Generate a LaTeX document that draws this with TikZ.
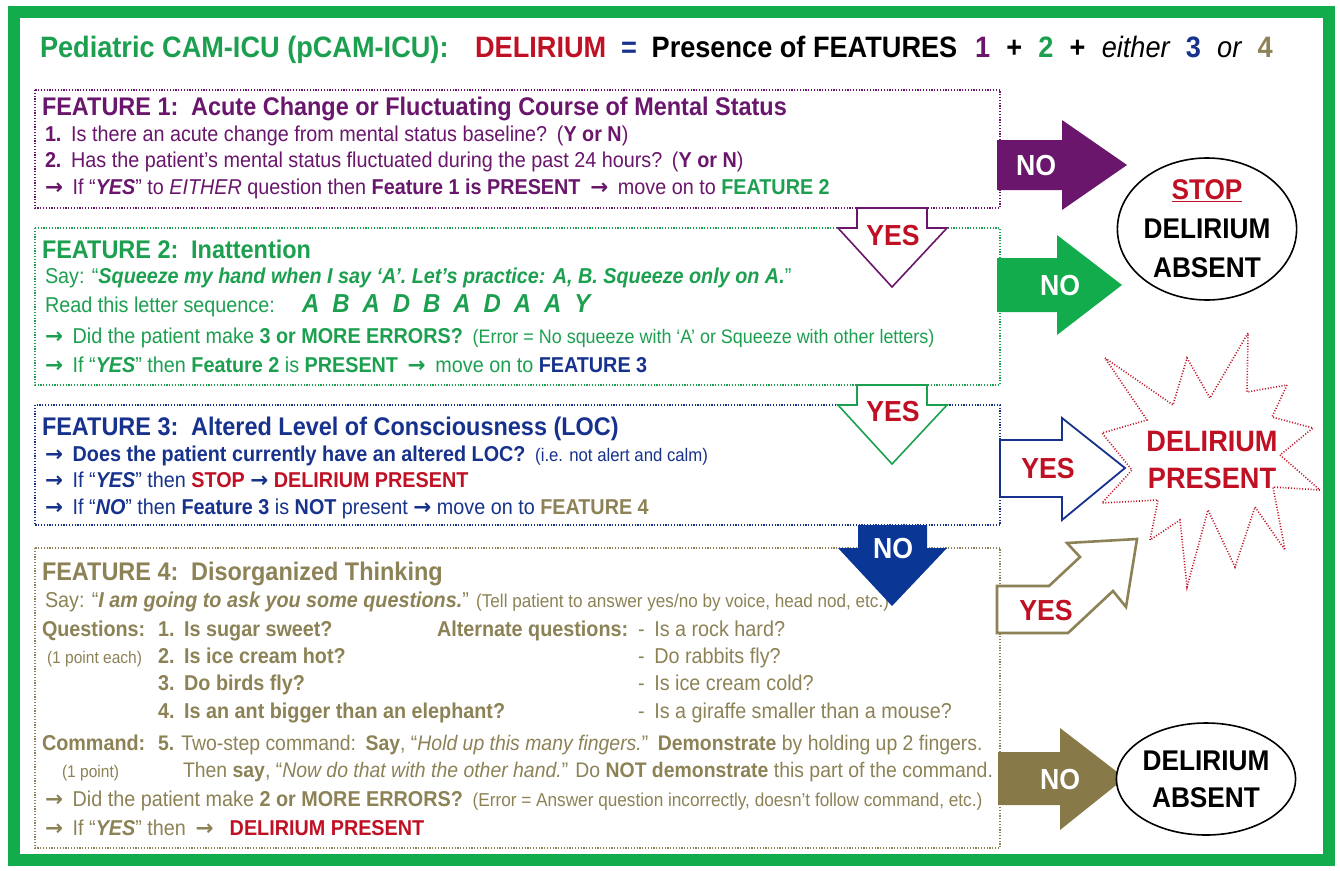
\documentclass[tikz,border=0pt]{standalone}
\usepackage{fontspec}
\setmainfont{Liberation Sans}[FakeStretch=0.92]
\newfontfamily\arrowfont{DejaVu Sans}
\usetikzlibrary{shapes.geometric}

\definecolor{frameGreen}{RGB}{18,172,76}
\definecolor{fGreen}{RGB}{28,160,80}
\definecolor{fPurple}{RGB}{105,22,108}
\definecolor{fBlue}{RGB}{22,50,140}
\definecolor{fKhaki}{RGB}{140,130,86}
\definecolor{fRed}{RGB}{192,16,36}
\definecolor{noBlue}{RGB}{10,55,150}
\definecolor{noKhaki}{RGB}{135,122,72}

\newcommand\titlesz{\fontsize{29.5}{34}\selectfont}
\newcommand\headsz{\fontsize{25.5}{30}\selectfont}
\newcommand\bodysz{\fontsize{21.5}{26}\selectfont}
\newcommand\parsz[1]{\fontsize{#1}{22}\selectfont}
\newcommand\bigsz{\fontsize{29}{34}\selectfont}
\newcommand\gap{\hspace{.45em}}
\newcommand\rarr{{\arrowfont\bfseries →}}

\begin{document}
\begin{tikzpicture}[x=1pt,y=-1pt,
  txt/.style={anchor=base west, inner sep=0pt, outer sep=0pt, font=\bodysz},
  headtxt/.style={txt, font=\headsz\bfseries},
  fbox/.style={draw=#1, line width=1.2pt, dash pattern=on 1.2pt off 1.6pt},
  arrtxt/.style={inner sep=0pt, font=\bigsz\bfseries},
  oval/.style={ellipse, draw=black, line width=1.6pt, fill=white, inner sep=0pt,
    align=center, font=\fontsize{28.5}{34}\selectfont\bfseries}
]
\useasboundingbox (0,0) rectangle (1340,870);
\fill[white] (0,0) rectangle (1340,870);

% outer frame
\draw[frameGreen, line width=12pt] (14,11.5) rectangle (1329,859.5);

% title
\node[txt, font=\titlesz\bfseries] (title) at (40,57) {%
  \color{fGreen}Pediatric CAM-ICU (pCAM-ICU):\hspace{.9em}%
  \color{fRed}DELIRIUM\hspace{.5em}%
  \color{fBlue}=\hspace{.5em}%
  \color{black}Presence of FEATURES\hspace{.6em}%
  {\color{fPurple}1}\hspace{.55em}+\hspace{.55em}{\color{fGreen}2}\hspace{.55em}+\hspace{.55em}%
  {\mdseries\itshape either}\hspace{.55em}{\color{fBlue}3}\hspace{.55em}{\mdseries\itshape or}\hspace{.55em}{\color{fKhaki}4}};

% ---------- feature boxes ----------
\draw[fbox=fPurple] (35,90) rectangle (1000,208);
\draw[fbox=fGreen] (35,228) rectangle (1000,385);
\draw[fbox=fBlue] (35,405) rectangle (1000,525);
\draw[fbox=fKhaki] (35,548) rectangle (1000,848);

% ---------- Feature 1 ----------
\begin{scope}[color=fPurple]
\node[headtxt] (f1h) at (42,115) {FEATURE 1:\hspace{.5em}Acute Change or Fluctuating Course of Mental Status};
\node[txt] (f1a) at (45,141) {\textbf{1.}\gap Is there an acute change from mental status baseline?\gap(\textbf{Y or N})};
\node[txt] (f1b) at (45,167) {\textbf{2.}\gap Has the patient’s mental status fluctuated during the past 24 hours?\gap(\textbf{Y or N})};
\node[txt] (f1c) at (45,194) {\rarr\gap If “\textbf{\textit{YES}}” to \textit{EITHER} question then \textbf{Feature 1 is PRESENT}\gap\rarr\gap move on to \textbf{\color{fGreen}FEATURE 2}};
\end{scope}

% ---------- Feature 2 ----------
\begin{scope}[color=fGreen]
\node[headtxt] (f2h) at (42,258) {FEATURE 2:\hspace{.5em}Inattention};
\node[txt] (f2a) at (45,283) {Say: “\textbf{\textit{Squeeze my hand when I say ‘A’. Let’s practice: A, B. Squeeze only on A.}}”};
\node[txt] (f2b) at (45,312) {Read this letter sequence:};
\node[txt, font=\fontsize{26}{30}\selectfont\bfseries\itshape] (f2seq) at (302,312)
  {A\hspace{.5em}B\hspace{.5em}A\hspace{.5em}D\hspace{.5em}B\hspace{.5em}A\hspace{.5em}D\hspace{.5em}A\hspace{.5em}A\hspace{.5em}Y};
\node[txt] (f2c) at (45,343) {\rarr\gap Did the patient make \textbf{3 or MORE ERRORS?}\gap{\parsz{19.5}(Error = No squeeze with ‘A’ or Squeeze with other letters)}};
\node[txt] (f2d) at (45,372) {\rarr\gap If “\textbf{\textit{YES}}” then \textbf{Feature 2} is \textbf{PRESENT}\gap\rarr\gap move on to \textbf{\color{fBlue}FEATURE 3}};
\end{scope}

% ---------- Feature 3 ----------
\begin{scope}[color=fBlue]
\node[headtxt] (f3h) at (42,435) {FEATURE 3:\hspace{.5em}Altered Level of Consciousness (LOC)};
\node[txt] (f3a) at (45,461) {\rarr\gap\textbf{Does the patient currently have an altered LOC?}\gap{\parsz{18.2}(i.e. not alert and calm)}};
\node[txt] (f3b) at (45,487) {\rarr\gap If “\textbf{\textit{YES}}” then \textbf{\color{fRed}STOP} \rarr\ \textbf{\color{fRed}DELIRIUM PRESENT}};
\node[txt] (f3c) at (45,514) {\rarr\gap If “\textbf{\textit{NO}}” then \textbf{Feature 3} is \textbf{NOT} present \rarr\ move on to \textbf{\color{fKhaki}FEATURE 4}};
\end{scope}

% ---------- Feature 4 ----------
\begin{scope}[color=fKhaki]
\node[headtxt] (f4h) at (42,580) {FEATURE 4:\hspace{.5em}Disorganized Thinking};
\node[txt] (f4a) at (45,607) {Say: “\textbf{\textit{I am going to ask you some questions.}}” {\parsz{18.6}(Tell patient to answer yes/no by voice, head nod, etc.)}};
\node[txt, font=\bodysz\bfseries] (f4q) at (42,636) {Questions:};
\node[txt, font=\parsz{16.9}] (f4qp) at (47,663) {(1 point each)};
\node[txt, font=\bodysz\bfseries] (f4q1) at (158,636) {1.\gap Is sugar sweet?};
\node[txt, font=\bodysz\bfseries] (f4q2) at (158,663) {2.\gap Is ice cream hot?};
\node[txt, font=\bodysz\bfseries] (f4q3) at (158,690) {3.\gap Do birds fly?};
\node[txt, font=\bodysz\bfseries] (f4q4) at (158,718) {4.\gap Is an ant bigger than an elephant?};
\node[txt, font=\bodysz\bfseries] (f4alt) at (437,636) {Alternate questions:};
\node[txt] (f4a1) at (638,636) {-\gap Is a rock hard?};
\node[txt] (f4a2) at (638,663) {-\gap Do rabbits fly?};
\node[txt] (f4a3) at (638,690) {-\gap Is ice cream cold?};
\node[txt] (f4a4) at (638,718) {-\gap Is a giraffe smaller than a mouse?};
\node[txt, font=\bodysz\bfseries] (f4c) at (42,750) {Command:};
\node[txt, font=\parsz{16.9}] (f4cp) at (62,777) {(1 point)};
\node[txt, font=\fontsize{21.1}{26}\selectfont] (f4c1) at (158,750) {\textbf{5.} Two-step command:\gap\textbf{Say}, “\textit{Hold up this many fingers.}”\gap\textbf{Demonstrate} by holding up 2 fingers.};
\node[txt, font=\fontsize{21.1}{26}\selectfont] (f4c2) at (183,777) {Then \textbf{say}, “\textit{Now do that with the other hand.}” Do \textbf{NOT demonstrate} this part of the command.};
\node[txt] (f4e) at (45,806) {\rarr\gap Did the patient make \textbf{2 or MORE ERRORS?}\gap{\parsz{18.7}(Error = Answer question incorrectly, doesn’t follow command, etc.)}};
\node[txt] (f4f) at (45,835) {\rarr\gap If “\textbf{\textit{YES}}” then\gap\rarr\gap\hspace{.3em}\textbf{\color{fRed}DELIRIUM PRESENT}};
\end{scope}

% ---------- downward arrows between features ----------
\draw[fPurple, line width=1.6pt, fill=white, line join=miter]
  (857,208) -- (927,208) -- (927,228) -- (947,228) -- (892,287) -- (838,228) -- (857,228) -- cycle;
\node[arrtxt, text=fRed] (yes1) at (893,236) {YES};
\draw[fGreen, line width=1.6pt, fill=white, line join=miter]
  (857,385) -- (927,385) -- (927,405) -- (947,405) -- (892,464) -- (838,405) -- (857,405) -- cycle;
\node[arrtxt, text=fRed] (yes2) at (893,412) {YES};
\fill[noBlue]
  (858,525) -- (927,525) -- (927,548) -- (947,548) -- (892,606) -- (838,548) -- (858,548) -- cycle;
\node[arrtxt, text=white] (no3) at (893,549) {NO};

% ---------- arrows to the outcomes ----------
\fill[fPurple] (997,140) -- (1062,140) -- (1062,120) -- (1127,165) -- (1062,210) -- (1062,190) -- (997,190) -- cycle;
\node[arrtxt, text=white] (no1) at (1036,166) {NO};
\fill[frameGreen] (997,258) -- (1057,258) -- (1057,235) -- (1122,285) -- (1057,335) -- (1057,312) -- (997,312) -- cycle;
\node[arrtxt, text=white] (no2) at (1060,286) {NO};
\draw[fBlue, line width=1.8pt, fill=white, line join=miter]
  (1000,440) -- (1062,440) -- (1062,418) -- (1125,468) -- (1062,520) -- (1062,497) -- (1000,497) -- cycle;
\node[arrtxt, text=fRed] (yes3) at (1048,469) {YES};
\draw[fKhaki, line width=2.6pt, fill=white, line join=miter]
  (997,586) -- (1049,586) -- (1080,557) -- (1067,543) -- (1137,539) -- (1126,607) -- (1113,591) -- (1068,633) -- (997,633) -- cycle;
\node[arrtxt, text=fRed] (yes4) at (1046,611) {YES};
\fill[noKhaki] (998,752) -- (1060,752) -- (1060,728) -- (1125,778) -- (1060,830) -- (1060,805) -- (998,805) -- cycle;
\node[arrtxt, text=white] (no4) at (1060,780) {NO};

% ---------- outcomes ----------
\node[oval, minimum width=146pt, minimum height=142pt] (absent1) at (1207,229)
  {{\color{fRed}\underline{STOP}}\\[5pt]DELIRIUM\\[5pt]ABSENT};
\node[oval, minimum width=153pt, minimum height=112pt] (absent2) at (1206,779)
  {DELIRIUM\\[3pt]ABSENT};

\draw[fRed, line width=1.6pt, dash pattern=on 1pt off 1.8pt, line join=miter]
  (1105,358) -- (1173,405) -- (1187,358) -- (1210,398) -- (1248,333) -- (1247,392)
  -- (1287,385) -- (1272,417) -- (1313,428) -- (1280,455) -- (1320,490) -- (1273,487)
  -- (1285,550) -- (1255,507) -- (1235,567) -- (1208,510) -- (1187,587) -- (1180,520)
  -- (1150,540) -- (1158,500) -- (1102,503) -- (1132,470) -- (1102,433) -- (1147,420) -- cycle;
\node[align=center, inner sep=0pt, text=fRed, font=\fontsize{29.5}{35}\selectfont\bfseries] (present)
  at (1212,460) {DELIRIUM\\[2pt]PRESENT};
\end{tikzpicture}
\end{document}
